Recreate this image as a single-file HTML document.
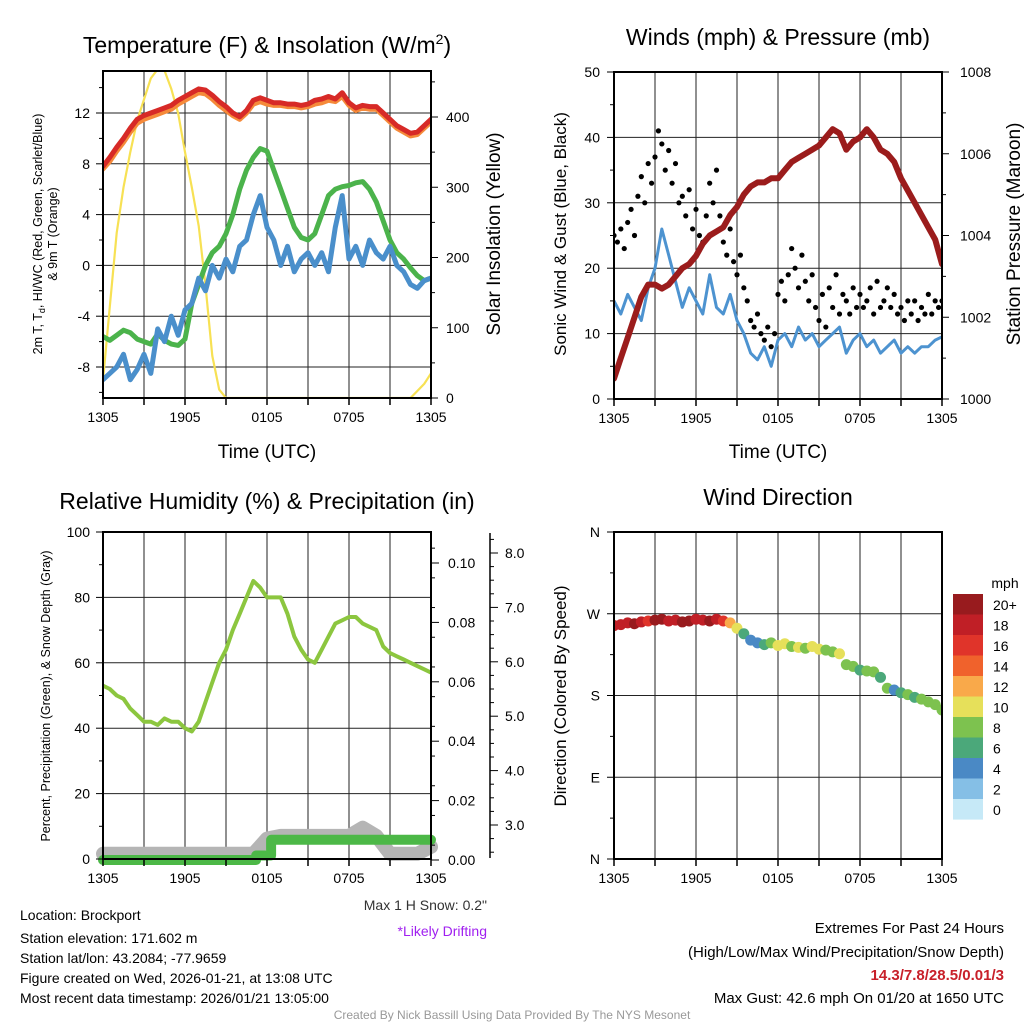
<!DOCTYPE html>
<html><head><meta charset="utf-8"><style>
html,body{margin:0;padding:0;background:#fff}
svg{display:block;font-family:"Liberation Sans",sans-serif}
</style></head><body>
<svg id="c" xmlns="http://www.w3.org/2000/svg" width="1024" height="1024" viewBox="0 0 1024 1024">
<rect width="1024" height="1024" fill="#fff"/>
<text x="267" y="53" font-size="23" text-anchor="middle">Temperature (F) &amp; Insolation (W/m<tspan dy="-9" font-size="14">2</tspan><tspan dy="9">)</tspan></text>
<text x="778" y="45" font-size="23" text-anchor="middle">Winds (mph) &amp; Pressure (mb)</text>
<text x="267" y="509" font-size="23" text-anchor="middle">Relative Humidity (%) &amp; Precipitation (in)</text>
<text x="778" y="505" font-size="23" text-anchor="middle">Wind Direction</text>
<text x="267" y="458" font-size="19" text-anchor="middle">Time (UTC)</text>
<text x="778" y="458" font-size="19" text-anchor="middle">Time (UTC)</text>
<text transform="translate(42,234) rotate(-90)" font-size="12.5" text-anchor="middle">2m T, T<tspan font-size="9" dy="3">d</tspan><tspan dy="-3">, HI/WC (Red, Green, Scarlet/Blue)</tspan></text>
<text transform="translate(57,234) rotate(-90)" font-size="12.5" text-anchor="middle">&amp; 9m T (Orange)</text>
<text transform="translate(500,234) rotate(-90)" font-size="19" text-anchor="middle">Solar Insolation (Yellow)</text>
<text transform="translate(566,234) rotate(-90)" font-size="17" text-anchor="middle">Sonic Wind &amp; Gust (Blue, Black)</text>
<text transform="translate(1020,234) rotate(-90)" font-size="19" text-anchor="middle">Station Pressure (Maroon)</text>
<text transform="translate(50,696) rotate(-90)" font-size="12.5" text-anchor="middle">Percent, Precipitation (Green), &amp; Snow Depth (Gray)</text>
<text transform="translate(566,696) rotate(-90)" font-size="17" text-anchor="middle">Direction (Colored By Speed)</text>
<text x="487" y="910" font-size="14" text-anchor="end" fill="#333">Max 1 H Snow: 0.2"</text>
<text x="487" y="936" font-size="14" text-anchor="end" fill="#a020f0">*Likely Drifting</text>
<g font-size="14">
<text x="20" y="920">Location: Brockport</text>
<text x="20" y="943">Station elevation: 171.602 m</text>
<text x="20" y="963">Station lat/lon: 43.2084; -77.9659</text>
<text x="20" y="983">Figure created on Wed, 2026-01-21, at 13:08 UTC</text>
<text x="20" y="1003">Most recent data timestamp: 2026/01/21 13:05:00</text>
</g>
<g font-size="15" text-anchor="end">
<text x="1004" y="933">Extremes For Past 24 Hours</text>
<text x="1004" y="957">(High/Low/Max Wind/Precipitation/Snow Depth)</text>
<text x="1004" y="980" fill="#c8202a" font-weight="bold">14.3/7.8/28.5/0.01/3</text>
<text x="1004" y="1003">Max Gust: 42.6 mph On 01/20 at 1650 UTC</text>
</g>
<text x="512" y="1019" font-size="12" text-anchor="middle" fill="#999">Created By Nick Bassill Using Data Provided By The NYS Mesonet</text>
<text x="1005" y="588" font-size="14" text-anchor="middle">mph</text>
</svg>
<script>
// ---------- data (time in hours since 1305 UTC) ----------
const xTickLabels = ["1305","1905","0105","0705","1305"];
const tempRed = [7.8,8.5,9.3,10.0,10.8,11.5,11.8,12.0,12.2,12.4,12.6,13.0,13.3,13.6,13.9,13.8,13.4,12.9,12.5,12.0,11.7,12.2,13.0,13.2,13.0,12.8,12.8,12.7,12.7,12.6,12.7,13.0,13.1,13.3,13.1,13.6,12.8,12.4,12.6,12.5,12.5,12.0,11.5,11.0,10.7,10.4,10.5,11.0,11.5];
const tempOrange = [7.6,8.2,9.0,9.7,10.5,11.2,11.5,11.7,11.9,12.1,12.3,12.7,13.0,13.3,13.6,13.5,13.1,12.6,12.2,11.8,11.5,12.0,12.7,12.9,12.7,12.6,12.6,12.5,12.5,12.4,12.5,12.7,12.8,13.0,12.9,13.3,12.6,12.2,12.4,12.3,12.3,11.8,11.3,10.8,10.5,10.2,10.3,10.8,11.3];
const tempGreen = [-5.6,-5.9,-5.5,-5.1,-5.3,-5.8,-6.0,-6.2,-5.4,-5.9,-6.2,-6.3,-5.8,-3.0,-1.5,0.0,1.0,1.5,2.5,4.0,6.0,7.5,8.5,9.2,9.0,7.5,6.0,4.5,3.0,2.2,2.0,2.5,4.0,5.5,6.0,6.2,6.3,6.5,6.6,6.0,5.0,3.5,2.0,1.0,0.5,-0.2,-0.8,-1.2,-1.0];
const tempBlue = [-9.0,-8.5,-8.0,-7.0,-9.0,-8.2,-7.0,-8.5,-5.0,-6.0,-4.0,-5.5,-3.5,-3.0,-1.0,-2.0,0.0,-1.0,0.5,-0.5,1.5,2.0,4.0,5.5,3.0,2.0,0.0,1.5,-0.5,0.5,1.0,0.0,1.0,-0.5,3.0,5.5,0.5,1.5,0.0,2.0,1.0,0.5,1.5,0.0,-0.5,-1.5,-1.8,-1.2,-1.0];
const insolation = [25,130,235,300,350,395,425,455,468,466,440,405,350,300,245,160,60,12,0,0,0,0,0,0,0,0,0,0,0,0,0,0,0,0,0,0,0,0,0,0,0,0,0,0,0,0,10,20,35];
const windSonic = [15,13,16,14,12,17,20,26,22,18,14,17,15,13,19,14,13,16,12,10,7,6,8,5,9,10,8,11,9,10,8,9,10,11,7,9,10,8,9,7,8,9,7,8,7,8,8,9,9.5];
const windGust = [25,24,26,23,27,29,25,31,34,30,36,33,37,41,39,35,38,33,36,30,31,28,32,26,29,25,24,28,33,30,35,28,24,22,26,21,19,22,17,15,12,11,13,10,9,11,8,10,16,18,15,19,23,20,17,22,18,15,19,14,12,16,11,17,14,19,13,16,15,13,17,14,16,14,15,17,13,18,14,15,17,14,16,13,14,12,15,13,15,12,14,13,16,13,15,14,15];
const pressure = [1000.5,1001.0,1001.5,1002.0,1002.5,1002.8,1002.8,1002.7,1002.8,1003.0,1003.2,1003.3,1003.5,1003.8,1004.0,1004.1,1004.2,1004.5,1004.7,1005.0,1005.2,1005.3,1005.3,1005.4,1005.4,1005.6,1005.8,1005.9,1006.0,1006.1,1006.2,1006.4,1006.6,1006.5,1006.1,1006.3,1006.4,1006.6,1006.4,1006.1,1006.0,1005.8,1005.4,1005.1,1004.8,1004.5,1004.2,1003.9,1003.3];
const humidity = [53,52,50,49,46,44,42,42,41,43,42,42,40,39,42,48,54,60,64,70,75,80,85,83,80,80,80,75,68,64,61,60,64,68,72,73,74,74,72,71,70,65,63,62,61,60,59,58,57];
const precipTimes = [0,11.2,11.2,12.3,12.3,24];
const precipVals = [0,0,0.0015,0.0015,0.0068,0.0068];
const snowTimes = [0,11,12,13,16,18,19,20,21,22,23,24];
const snowVals = [2.47,2.47,2.75,2.8,2.8,2.8,2.95,2.8,2.47,2.47,2.47,2.6];
const windDir = [257,258,260,259,261,262,263,264,262,263,261,262,264,263,262,264,262,260,254,248,241,238,236,238,235,237,234,233,232,234,231,230,228,226,214,212,208,207,206,200,188,186,183,181,178,176,173,170,164];
const dirSpeed = [18,19,18,20,19,17,21,20,19,18,20,21,19,18,20,19,17,13,11,7,5,4,6,8,10,11,9,10,9,11,10,9,8,10,9,8,7,8,9,7,8,5,7,8,7,8,9,8,8];
const cbLabels = ["20+","18","16","14","12","10","8","6","4","2","0"];
const cbColors = ["#981b1e","#c01f26","#e0342a","#f0622c","#f9a94a","#e6e05a","#7dc24f","#4ba87a","#4a89c5","#85bfe6","#c6e9f7"];

// ---------- helpers ----------
const svg = document.getElementById('c');
const NS = 'http://www.w3.org/2000/svg';
function mk(tag, attrs, parent){ const e=document.createElementNS(NS,tag); for(const k in attrs) e.setAttribute(k,attrs[k]); (parent||svg).appendChild(e); return e; }
function lin(d0,d1,r0,r1){ return v => r0+(v-d0)*(r1-r0)/(d1-d0); }
function panel(x0,x1,y0,y1,name){
  const g=mk('g',{});
  
  
  return {g,x0,x1,y0,y1,x:lin(0,24,x0,x1)};
}
function grid(p, yVals, ys){
  for(let h=3;h<24;h+=3){ const l=mk('line',{x1:p.x(h),x2:p.x(h),y1:p.y0,y2:p.y1,stroke:'#222','stroke-width':1},p.g);
      }
  yVals.forEach(v=>{ const l=mk('line',{x1:p.x0,x2:p.x1,y1:ys(v),y2:ys(v),stroke:'#222','stroke-width':1},p.g);
      });
}
function xAxis(p){
  for(let h=0;h<=24;h+=3){ const t=mk('line',{x1:p.x(h),x2:p.x(h),y1:p.y1,y2:p.y1+7,stroke:'#000','stroke-width':1.5},p.g);
      }
  xTickLabels.forEach((s,i)=>{ const t=mk('text',{x:p.x(i*6),y:p.y1+24,'font-size':14,'text-anchor':'middle'},p.g); t.textContent=s;
      });
}
function yAxis(p, side, ax, ys, ticks, minors, fmt, lx, len){
  const dir = side==='left'?-1:1;
  ticks.forEach(v=>{ const t=mk('line',{x1:ax,x2:ax+dir*(len||7),y1:ys(v),y2:ys(v),stroke:'#000','stroke-width':1},p.g);
     
    const l=mk('text',{x:lx,y:ys(v)+5,'font-size':14,'text-anchor':side==='left'?'end':'start'},p.g); l.textContent=fmt(v);
      });
  minors.forEach(v=>{ const t=mk('line',{x1:ax,x2:ax+dir*4,y1:ys(v),y2:ys(v),stroke:'#000','stroke-width':1},p.g);
      });
}
function frame(p){ const r=mk('rect',{x:p.x0,y:p.y0,width:p.x1-p.x0,height:p.y1-p.y0,fill:'none',stroke:'#000','stroke-width':2},p.g);
    }
function clip(p,id){ const cp=mk('clipPath',{id}); mk('rect',{x:p.x0,y:p.y0,width:p.x1-p.x0,height:p.y1-p.y0},cp); return 'url(#'+id+')'; }
function series(p, vals, ys, color, w, name, cid, times){
  const d = vals.map((v,i)=>(i?'L':'M')+p.x(times?times[i]:i*24/(vals.length-1)).toFixed(1)+','+ys(v).toFixed(1)).join('');
  const e=mk('path',{d,fill:'none',stroke:color,'stroke-width':w,'stroke-linejoin':'round','stroke-linecap':'round','clip-path':cid},p.g);
  
  
  return e;
}
function range(a,b,s){ const r=[]; for(let v=a;v<=b+1e-9;v+=s) r.push(+v.toFixed(4)); return r; }

// ---------- panel 1: temperature ----------
const p1=panel(103,431,71,398,'temperature-panel');
const yT=lin(-8,12,367,113), yS=lin(0,400,398,117);
grid(p1,[12,8,4,0,-4,-8],yT);
const c1=clip(p1,'c1');
series(p1,insolation,yS,'#f7e154',2.2,'insolation-line',c1);
series(p1,tempGreen,yT,'#4bb34b',5,'heat-index-line',c1);
series(p1,tempBlue,yT,'#4a8fcb',5,'dewpoint-line',c1);
series(p1,tempOrange,yT,'#f58a3a',5,'temp-9m-line',c1);
series(p1,tempRed,yT,'#d72a27',5,'temp-2m-line',c1);
frame(p1); xAxis(p1);
yAxis(p1,'left',103,yT,[12,8,4,0,-4,-8],[14,10,6,2,-2,-6,-10],v=>v,90);
yAxis(p1,'right',431,yS,[0,100,200,300,400],[50,150,250,350,450],v=>v,446);

// ---------- panel 2: winds ----------
const p2=panel(614,942,72,399,'winds-panel');
const yW=lin(0,50,399,72), yP=lin(1000,1008,399,72);
grid(p2,[10,20,30,40],yW);
const c2=clip(p2,'c2');
series(p2,windSonic,yW,'#4d93d0',3,'sonic-wind-line',c2);
windGust.forEach((v,i)=>{ const c=mk('circle',{cx:p2.x(i*24/(windGust.length-1)),cy:yW(v),r:2.6,fill:'#000','clip-path':c2},p2.g);
    });
series(p2,pressure,yP,'#9b1c1c',6,'pressure-line',c2);
frame(p2); xAxis(p2);
yAxis(p2,'left',614,yW,[0,10,20,30,40,50],[5,15,25,35,45],v=>v,600);
yAxis(p2,'right',942,yP,[1000,1002,1004,1006,1008],[1001,1003,1005,1007],v=>v,960);

// ---------- panel 3: humidity ----------
const p3=panel(103,431,532,859,'humidity-panel');
const yH=lin(0,100,859,532), yR=lin(0,0.1,860,563), yD=lin(3,8,825,553);
grid(p3,[20,40,60,80],yH);
const c3=clip(p3,'c3');
const c3b=mk('clipPath',{id:'c3b'}); mk('rect',{x:95,y:532,width:345,height:340},c3b);
series(p3,snowVals,yD,'#b5b5b5',14,'snow-depth-line','url(#c3b)',snowTimes);
series(p3,precipVals,yR,'#4cb847',10,'precip-line','url(#c3b)',precipTimes);
series(p3,humidity,yH,'#8cc63f',4,'humidity-line',c3);
frame(p3); xAxis(p3);
yAxis(p3,'left',103,yH,[0,20,40,60,80,100],[10,30,50,70,90],v=>v,90);
yAxis(p3,'right',431,yR,[0,0.02,0.04,0.06,0.08,0.10],range(0.005,0.105,0.01),v=>v.toFixed(2),448,8);
const ax2=mk('line',{x1:490,x2:490,y1:533,y2:858,stroke:'#000','stroke-width':1.5});  
yAxis(p3,'right',490,yD,[3,4,5,6,7,8],range(2.5,8.25,0.25).filter(v=>v%1!==0),v=>v.toFixed(1),505,8);

// ---------- panel 4: wind direction ----------
const p4=panel(614,942,532,859,'wind-direction-panel');
const yDir=lin(0,360,859,532);
grid(p4,[90,180,270],yDir);
function binColor(s){ const i=Math.min(10,Math.floor(s/2)); return cbColors[10-i]; }
const c4=clip(p4,'c4');
windDir.forEach((v,i)=>{ const c=mk('circle',{cx:p4.x(i*24/(windDir.length-1)),cy:yDir(v),r:5.5,fill:binColor(dirSpeed[i]),'clip-path':c4},p4.g);
    });
frame(p4); xAxis(p4);
yAxis(p4,'left',614,yDir,[0,90,180,270,360],[45,135,225,315],v=>['N','E','S','W','N'][v/90],600);
cbLabels.forEach((s,i)=>{ const r=mk('rect',{x:953,y:594+i*20.5,width:30,height:20.6,fill:cbColors[i]});
   
  const t=mk('text',{x:993,y:610+i*20.5,'font-size':14}); t.textContent=s;
    });
</script>
</body></html>
